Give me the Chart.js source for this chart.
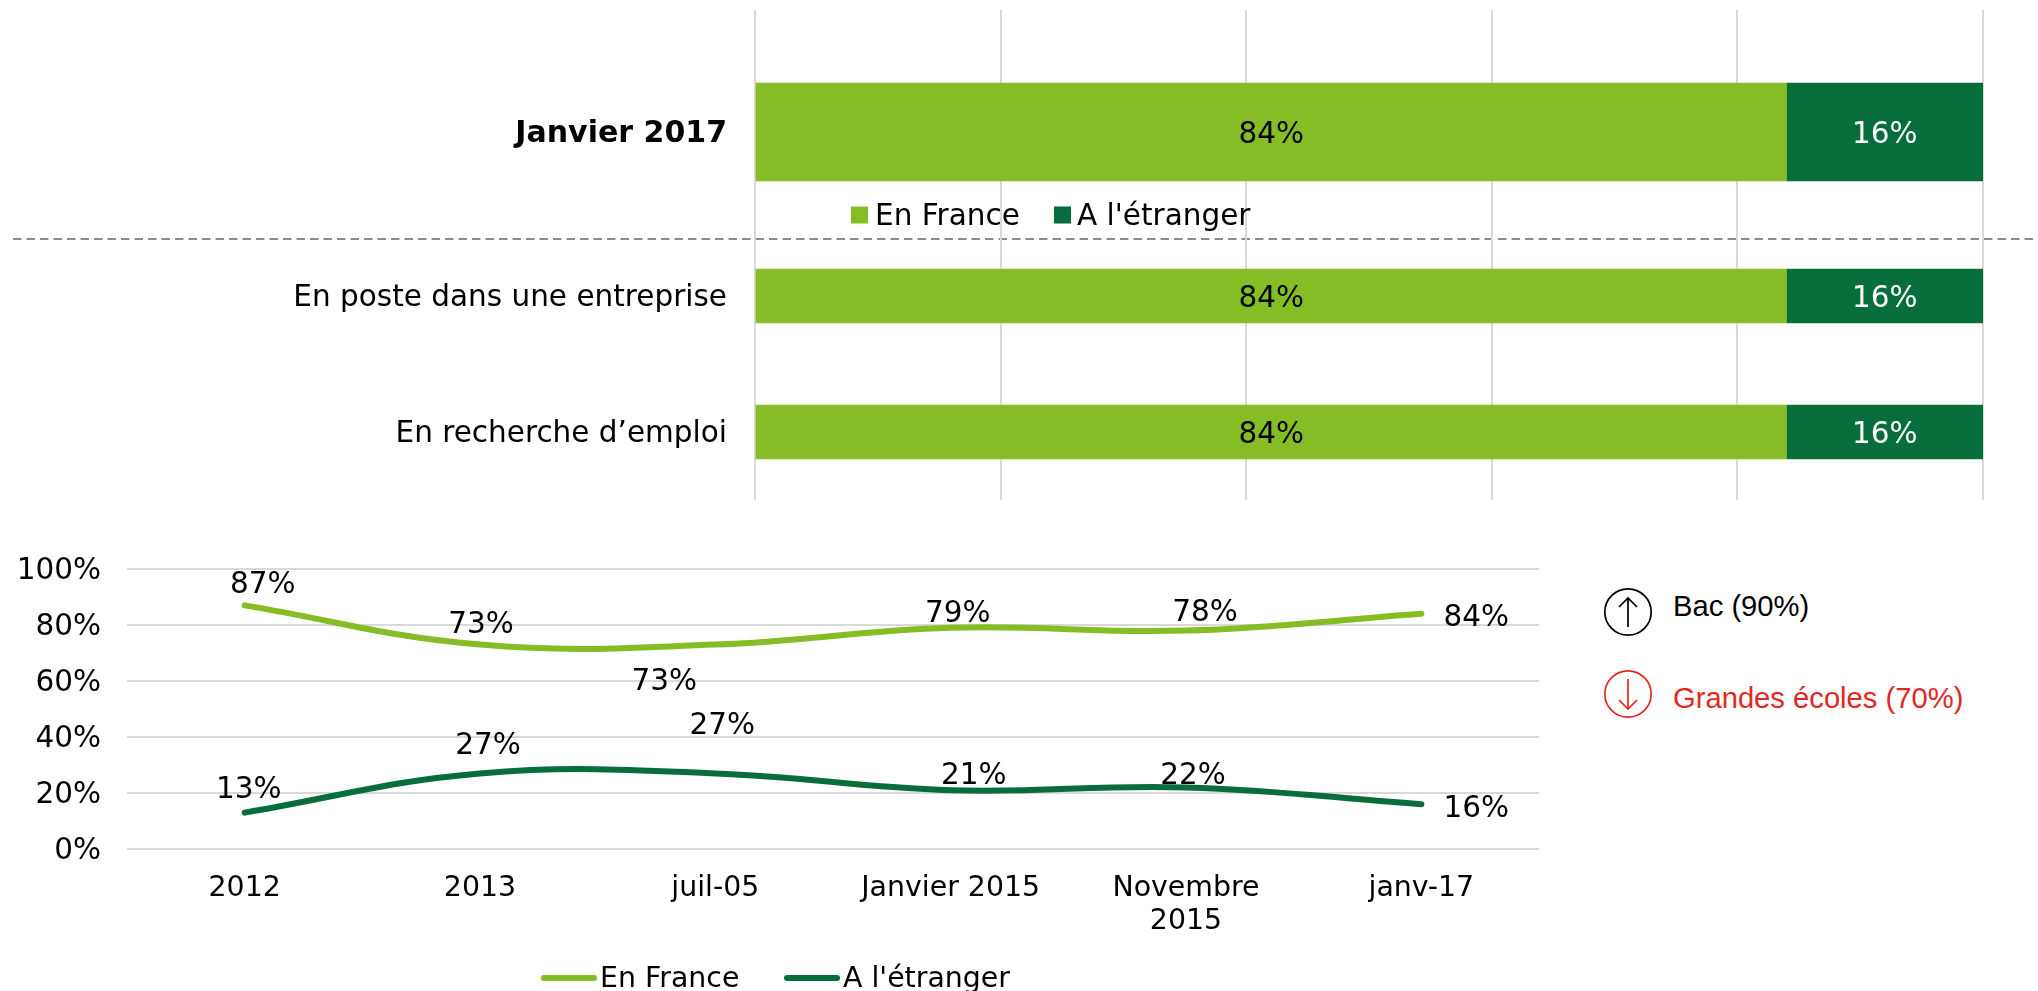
<!DOCTYPE html>
<html lang="fr">
<head>
<meta charset="utf-8">
<title>En France / A l'étranger</title>
<script src="https://cdn.jsdelivr.net/npm/chart.js@4/dist/chart.umd.min.js"></script>
<style>
  html, body { margin: 0; background: #fff; overflow: hidden; }
  #page { position: relative; width: 2038px; height: 991px; }
  canvas { position: absolute; left: 0; }
  .note { position: absolute; left: 1673px; font: 29.2px "Liberation Sans", Arial, sans-serif; white-space: nowrap; transform: translateY(-50%); }
  .badge { position: absolute; left: 1603px; }
</style>
</head>
<body>
<div id="page">
  <canvas id="barTop" width="2038" height="254" style="top:0"></canvas>
  <canvas id="barBottom" width="2038" height="272" style="top:228px"></canvas>
  <canvas id="trend" width="1550" height="451" style="top:540px"></canvas>

  <svg class="badge" style="top:587px" width="50" height="50" viewBox="0 0 50 50" fill="none" stroke="#000" stroke-width="1.7">
    <circle cx="25" cy="25" r="23.2"/><path d="M25 40V11M16 20l9-9 9 9"/>
  </svg>
  <div class="note" style="top:606px;color:#000">Bac (90%)</div>
  <svg class="badge" style="top:669px" width="50" height="50" viewBox="0 0 50 50" fill="none" stroke="#e2291f" stroke-width="1.7">
    <circle cx="25" cy="25" r="23.2"/><path d="M25 10v30M16 31l9 9 9-9"/>
  </svg>
  <div class="note" style="top:698px;color:#e2291f">Grandes écoles (70%)</div>
</div>

<script>
const FONT = '"DejaVu Sans", Verdana, sans-serif';
const FONT_SIZE = 29.5;
const SMALL_FONT_SIZE = 28.4;
const GREEN = '#86bc25';
const DARK = '#076d3a';
const GRID = '#d9d9d9';

// Répartition actuelle
const topCategories = ['Janvier 2017'];
const topFrance = [84];
const topAbroad = [16];
const statusCategories = ['En poste dans une entreprise', 'En recherche d’emploi'];
const statusFrance = [84, 84];
const statusAbroad = [16, 16];

// Evolution
const trendCategories = ['2012', '2013', 'juil-05', 'Janvier 2015', ['Novembre', '2015'], 'janv-17'];
const trendFrance = [87, 73, 73, 79, 78, 84];
const trendAbroad = [13, 27, 27, 21, 22, 16];
const seriesNames = ['En France', "A l'étranger"];

// label offsets from the point, same as the hand-moved labels in the original
const franceOffsets = [[18, -20], [1, -19], [-51, 38], [7, -13], [19, -17], [55, 5]];
const abroadOffsets = [[4, -22], [8, -27], [7, -47], [23, -14], [7, -11], [55, 5]];

// percent labels inside the bars
const barLabels = {
  id: 'barLabels',
  afterDatasetsDraw(chart) {
    const { ctx } = chart;
    ctx.save();
    ctx.font = `${FONT_SIZE}px ${FONT}`;
    ctx.textAlign = 'center';
    ctx.textBaseline = 'middle';
    chart.data.datasets.forEach((ds, i) => {
      ctx.fillStyle = i === 0 ? '#000' : '#fff';
      chart.getDatasetMeta(i).data.forEach((bar, j) => {
        const c = bar.getCenterPoint();
        ctx.fillText(ds.data[j] + '%', c.x, c.y + 3);
      });
    });
    ctx.restore();
  }
};

// labels on the trend lines
const pointLabels = {
  id: 'pointLabels',
  afterDatasetsDraw(chart) {
    const { ctx } = chart;
    ctx.save();
    ctx.font = `${FONT_SIZE}px ${FONT}`;
    ctx.fillStyle = '#000';
    ctx.textAlign = 'center';
    ctx.textBaseline = 'middle';
    [franceOffsets, abroadOffsets].forEach((offsets, i) => {
      chart.getDatasetMeta(i).data.forEach((pt, j) => {
        ctx.fillText(chart.data.datasets[i].data[j] + '%', pt.x + offsets[j][0], pt.y + offsets[j][1]);
      });
    });
    ctx.restore();
  }
};

// legend drawn by hand: Chart.js forces a gap of half the font size after the key
const tightLegend = {
  id: 'tightLegend',
  afterDraw(chart, args, opts) {
    const { ctx } = chart;
    ctx.save();
    ctx.font = `${opts.fontSize}px ${FONT}`;
    ctx.textBaseline = 'middle';
    ctx.textAlign = 'left';
    chart.data.datasets.forEach((ds, i) => {
      const k = opts.items[i];
      ctx.fillStyle = ds.backgroundColor;
      if (opts.line) {
        ctx.strokeStyle = ds.borderColor;
        ctx.lineWidth = 6;
        ctx.lineCap = 'round';
        ctx.beginPath();
        ctx.moveTo(k.x + 3, opts.y);
        ctx.lineTo(k.x + k.w - 3, opts.y);
        ctx.stroke();
      } else {
        ctx.fillRect(k.x, opts.y - k.h / 2, k.w, k.h);
      }
      ctx.fillStyle = '#000';
      ctx.fillText(ds.label, k.textX, opts.y + (opts.textDy || 0));
    });
    ctx.restore();
  }
};

// dashed separator across the page
const separator = {
  id: 'separator',
  afterDraw(chart) {
    const { ctx } = chart;
    ctx.save();
    ctx.strokeStyle = '#8c8c8c';
    ctx.lineWidth = 2;
    ctx.setLineDash([8.5, 5]);
    ctx.beginPath();
    ctx.moveTo(13, 239);
    ctx.lineTo(2038, 239);
    ctx.stroke();
    ctx.restore();
  }
};

// vertical scales add ticks.padding above and below the plot, drop that
function noVerticalPadding(scale) {
  scale.paddingTop = 0;
  scale.paddingBottom = 0;
}

function barChart(id, labels, france, abroad, thickness, boldLabels, padding, legend) {
  return new Chart(document.getElementById(id), {
    type: 'bar',
    data: {
      labels,
      datasets: [
        { label: seriesNames[0], data: france, backgroundColor: GREEN, barThickness: thickness },
        { label: seriesNames[1], data: abroad, backgroundColor: DARK, barThickness: thickness }
      ]
    },
    options: {
      indexAxis: 'y',
      responsive: false,
      animation: false,
      devicePixelRatio: 1,
      layout: { padding },
      scales: {
        x: {
          stacked: true, min: 0, max: 100,
          afterFit(scale) { scale.height = 0; },
          ticks: { display: false, stepSize: 20 },
          grid: { color: GRID, lineWidth: 2, drawTicks: false },
          border: { display: false }
        },
        y: {
          stacked: true,
          afterFit(scale) { scale.width = 755; noVerticalPadding(scale); },
          grid: { display: false, drawTicks: false },
          border: { display: false },
          ticks: {
            color: '#000', padding: 28, labelOffset: 2,
            font: { family: FONT, size: boldLabels ? 30 : FONT_SIZE, weight: boldLabels ? 'bold' : 'normal' }
          }
        }
      },
      plugins: {
        legend: { display: false },
        tooltip: { enabled: false },
        tightLegend: legend
      }
    },
    plugins: legend ? [barLabels, tightLegend, separator] : [barLabels]
  });
}

barChart('barTop', topCategories, topFrance, topAbroad, 98, true,
  { top: 10, right: 55, bottom: 0, left: 0 },
  { y: 215, textDy: 2, fontSize: FONT_SIZE, items: [
    { x: 851, w: 17, h: 17, textX: 875 },
    { x: 1054, w: 17, h: 17, textX: 1077 }
  ] });

barChart('barBottom', statusCategories, statusFrance, statusAbroad, 54, false,
  { top: 0, right: 55, bottom: 0, left: 0 }, null);

new Chart(document.getElementById('trend'), {
  type: 'line',
  data: {
    labels: trendCategories,
    datasets: [
      { label: seriesNames[0], data: trendFrance, borderColor: GREEN, backgroundColor: GREEN },
      { label: seriesNames[1], data: trendAbroad, borderColor: DARK, backgroundColor: DARK }
    ]
  },
  options: {
    responsive: false,
    animation: false,
    devicePixelRatio: 1,
    layout: { padding: { top: 29, right: 11, bottom: 0, left: 0 } },
    elements: {
      line: { borderWidth: 6, tension: 0.4, borderCapStyle: 'round' },
      point: { radius: 0 }
    },
    scales: {
      x: {
        offset: true,
        afterFit(scale) { scale.height = 142; scale.paddingLeft = 0; scale.paddingRight = 0; },
        grid: { display: false, drawTicks: false, offset: true },
        border: { display: false },
        ticks: {
          color: '#000', padding: 23, maxRotation: 0, autoSkip: false,
          font: { family: FONT, size: SMALL_FONT_SIZE, lineHeight: 1.16 }
        }
      },
      y: {
        min: 0, max: 100,
        afterFit(scale) { scale.width = 127; noVerticalPadding(scale); },
        grid: { color: GRID, lineWidth: 2, drawTicks: false },
        border: { display: false },
        ticks: {
          color: '#000', stepSize: 20, padding: 26, labelOffset: 2,
          callback: v => v + '%',
          font: { family: FONT, size: FONT_SIZE }
        }
      }
    },
    plugins: {
      legend: { display: false },
      tooltip: { enabled: false },
      tightLegend: {
        line: true, y: 438, textDy: 2, fontSize: SMALL_FONT_SIZE,
        items: [
          { x: 541, w: 56, textX: 600 },
          { x: 784, w: 56, textX: 843 }
        ]
      }
    }
  },
  plugins: [pointLabels, tightLegend]
});
</script>
</body>
</html>
